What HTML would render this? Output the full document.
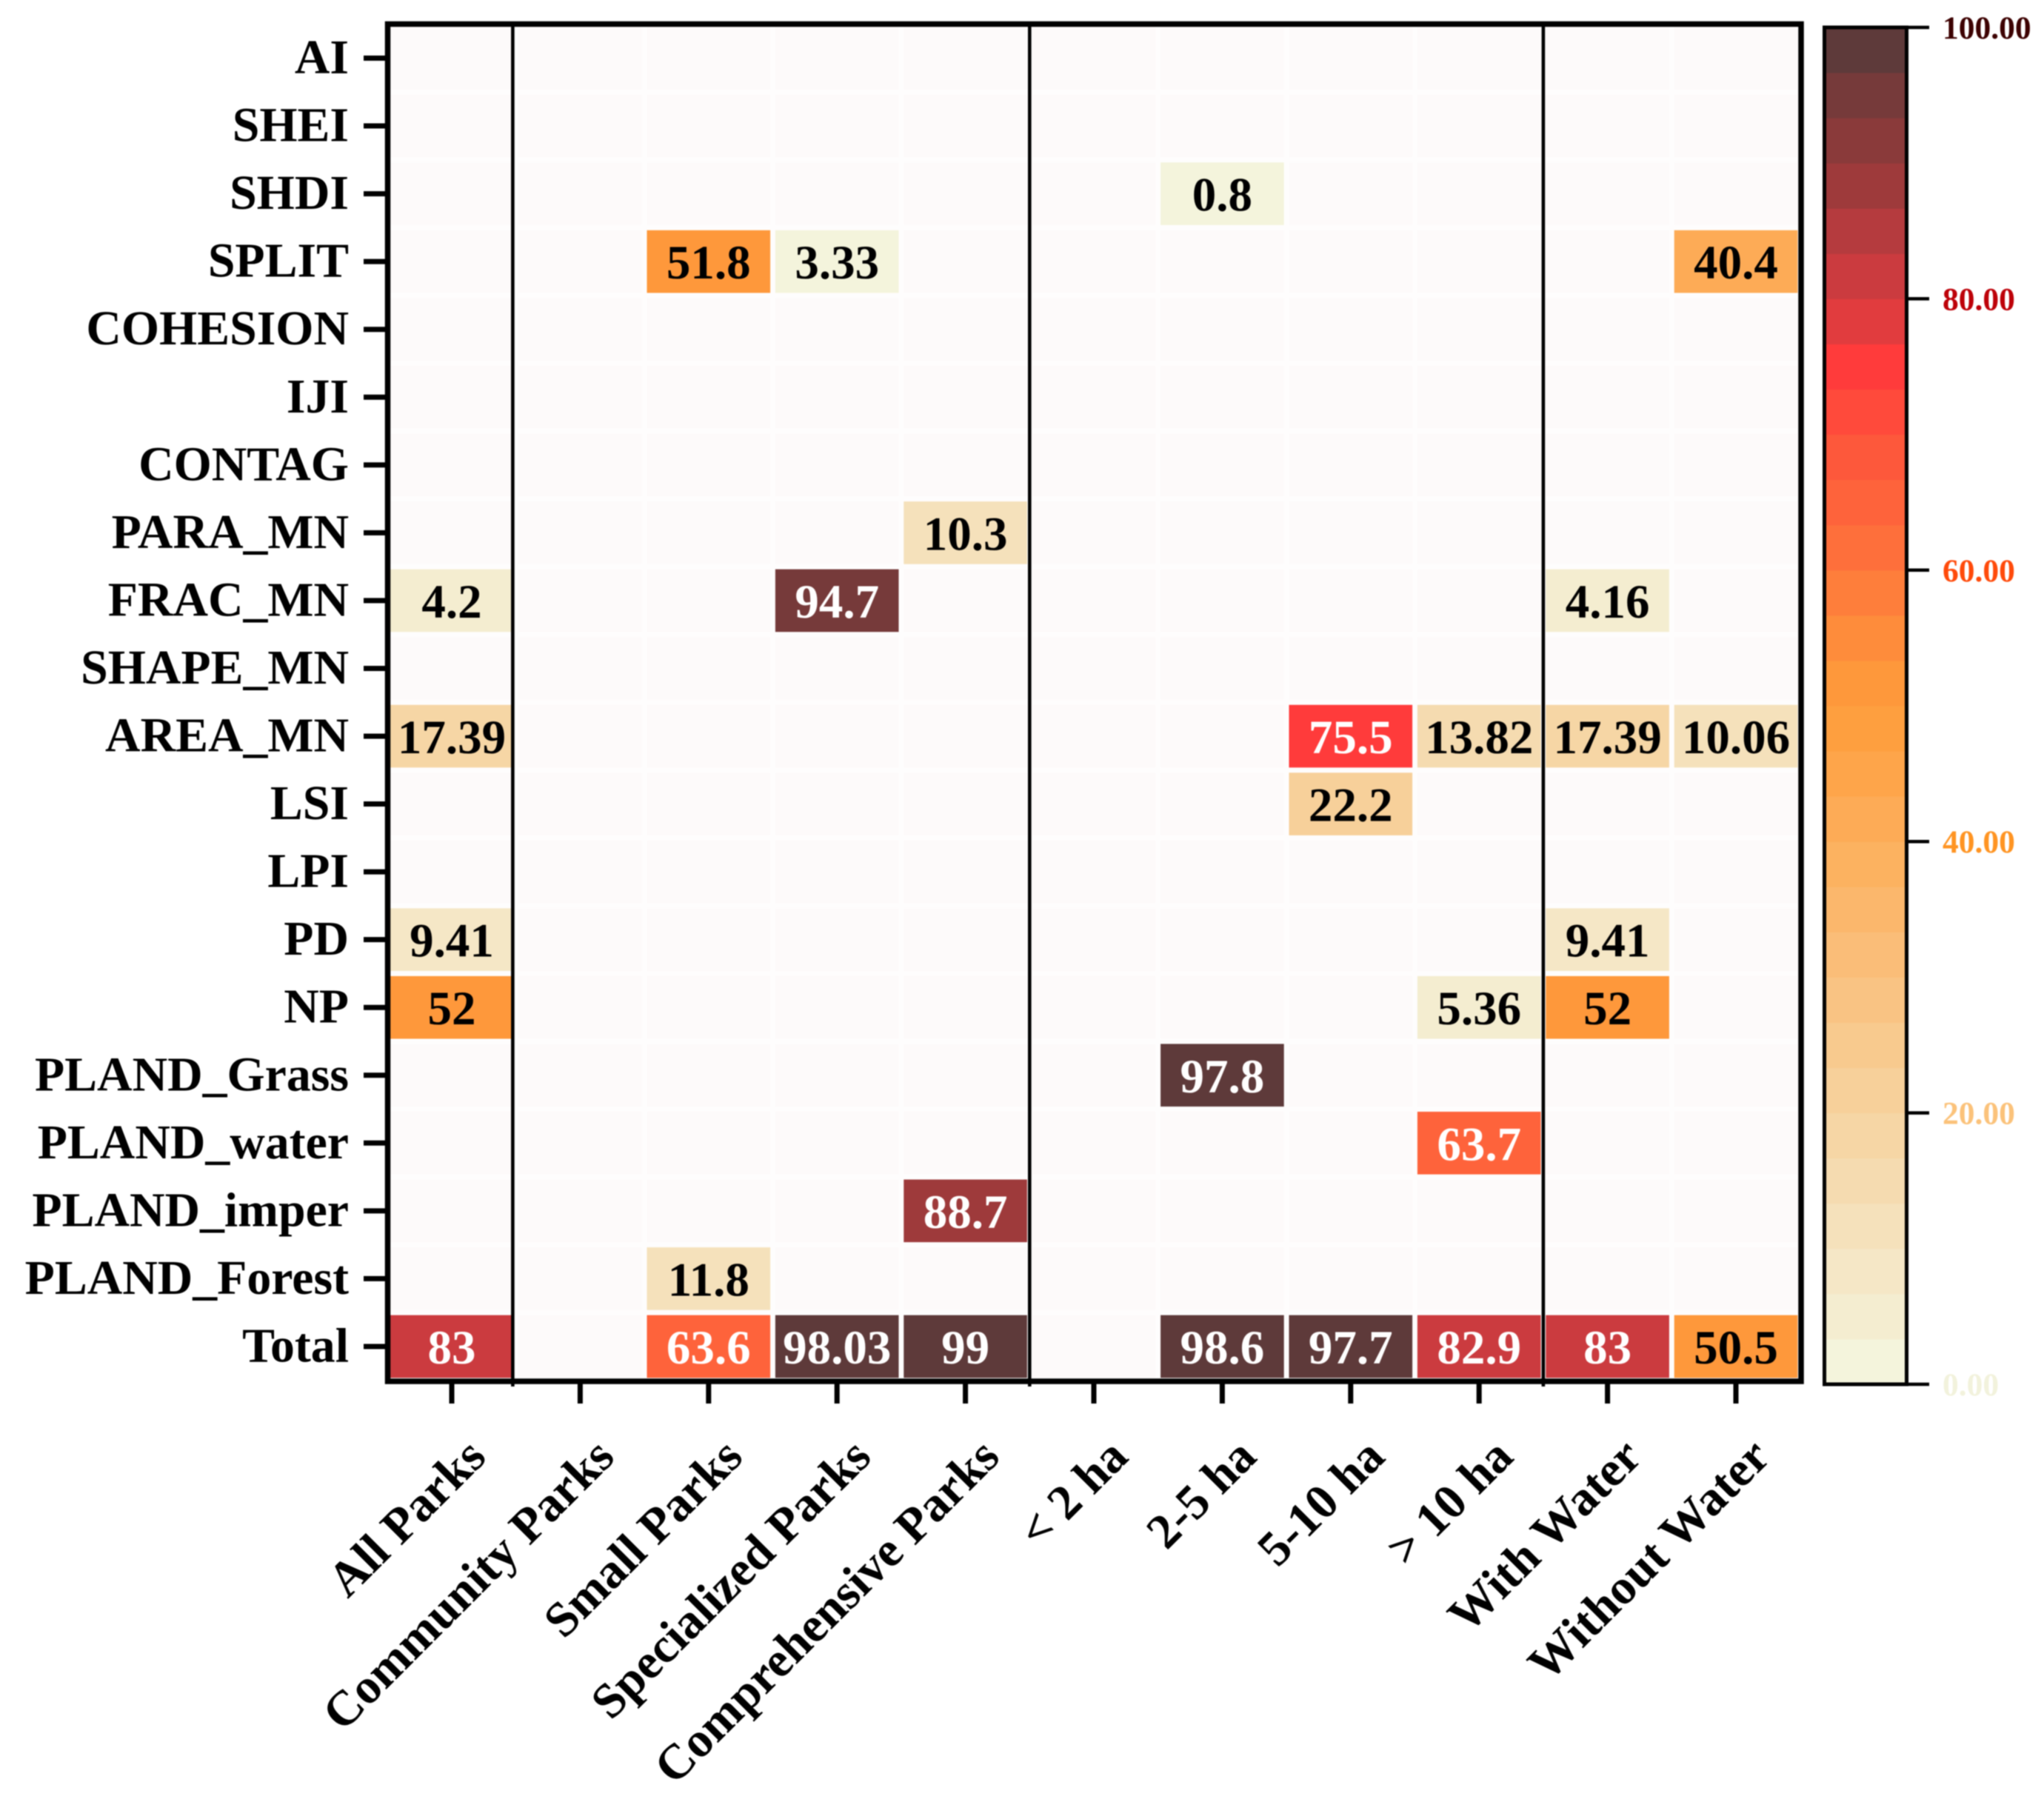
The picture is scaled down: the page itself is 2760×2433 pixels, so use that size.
<!DOCTYPE html>
<html lang="en">
<head>
<meta charset="utf-8">
<title>Landscape metrics heatmap</title>
<style>
html,body{margin:0;padding:0;background:#fff;}
svg{display:block;filter:blur(0.7px);}
text{font-family:"Liberation Serif",serif;font-weight:bold;}
</style>
</head>
<body>
<svg id="chart" xmlns="http://www.w3.org/2000/svg" width="2760" height="2433" viewBox="0 0 2760 2433">
  <rect x="0" y="0" width="2760" height="2433" fill="#ffffff"/>
  <rect x="523.5" y="32.5" width="1908.5" height="1832.5" fill="#fefdfd"/>
  <g id="cells"></g>
  <g id="separators"></g>
  <rect x="523.5" y="32.5" width="1908.5" height="1832.5" fill="none" stroke="#000" stroke-width="7.5"/>
  <g id="yaxis"></g>
  <g id="xaxis"></g>
  <g id="colorbar"></g>
</svg>
<script>
const rowLabels = ["AI","SHEI","SHDI","SPLIT","COHESION","IJI","CONTAG","PARA_MN","FRAC_MN","SHAPE_MN","AREA_MN","LSI","LPI","PD","NP","PLAND_Grass","PLAND_water","PLAND_imper","PLAND_Forest","Total"];
const columnLabels = ["All Parks","Community Parks","Small Parks","Specialized Parks","Comprehensive Parks","< 2 ha","2-5 ha","5-10 ha","> 10 ha","With Water","Without Water"];
const _ = null;
const cellValues = [
  [_,_,_,_,_,_,_,_,_,_,_],
  [_,_,_,_,_,_,_,_,_,_,_],
  [_,_,_,_,_,_,0.8,_,_,_,_],
  [_,_,51.8,3.33,_,_,_,_,_,_,40.4],
  [_,_,_,_,_,_,_,_,_,_,_],
  [_,_,_,_,_,_,_,_,_,_,_],
  [_,_,_,_,_,_,_,_,_,_,_],
  [_,_,_,_,10.3,_,_,_,_,_,_],
  [4.2,_,_,94.7,_,_,_,_,_,4.16,_],
  [_,_,_,_,_,_,_,_,_,_,_],
  [17.39,_,_,_,_,_,_,75.5,13.82,17.39,10.06],
  [_,_,_,_,_,_,_,22.2,_,_,_],
  [_,_,_,_,_,_,_,_,_,_,_],
  [9.41,_,_,_,_,_,_,_,_,9.41,_],
  [52,_,_,_,_,_,_,_,5.36,52,_],
  [_,_,_,_,_,_,97.8,_,_,_,_],
  [_,_,_,_,_,_,_,_,63.7,_,_],
  [_,_,_,_,88.7,_,_,_,_,_,_],
  [_,_,11.8,_,_,_,_,_,_,_,_],
  [83,_,63.6,98.03,99,_,98.6,97.7,82.9,83,50.5]
];
const separatorColumns = [0.975, 5, 9];
const colorbarTicks = [0, 20, 40, 60, 80, 100];
const colorbarTickColors = ["#f2f2dc","#fbc27a","#ff9422","#ff4a0a","#bd0008","#3c0000"];
const bandColors = [
  "#f4f4dc","#f4edd0","#f5e7c6","#f5e1bb","#f5dbb0","#f6d6a5","#f7d09a","#f8ca8e","#f9c383","#fabd78",
  "#fbb76c","#fcb260","#fdab56","#fea54a","#fe9f3f","#fe983b","#fe8c3b","#fe7e3b","#fe6f3b","#fe633b",
  "#fd583b","#ff4a3b","#ff3b3b","#e13c3e","#cb3b3f","#b53b3e","#9e3a3b","#8a3a3a","#763a3a","#5e3a3a"
];

const SVGNS = "http://www.w3.org/2000/svg";
const xPitch = 173.4, yPitch = 91.55, xFirst = 610, yFirst = 78.5;
const xCenter = i => xFirst + i * xPitch;
const yCenter = i => yFirst + i * yPitch;
const xEdge = c => xCenter(c) - xPitch / 2;
const barTop = 37, barBottom = 1869;
const yBar = v => barBottom - (v / 100) * (barBottom - barTop);
const bandIndex = v => Math.min(bandColors.length - 1, Math.floor(v / (100 / bandColors.length)));
const colorFor = v => bandColors[bandIndex(v)];
const make = (tag, parent) => { const e = document.createElementNS(SVGNS, tag); parent.appendChild(e); return e; };
const setAll = (e, o) => { for (const k in o) e.setAttribute(k, o[k]); return e; };

const cellsG = document.getElementById("cells");
rowLabels.forEach((rowName, r) => {
  columnLabels.forEach((colName, c) => {
    const v = cellValues[r][c];
    const rect = make("rect", cellsG);
    
    
    setAll(rect, { x: xCenter(c) - 83.3, y: yCenter(r) - 42.3, width: 166.6, height: 84.6, fill: v === null ? "#fdfafa" : colorFor(v) });
    if (v !== null) {
      const t = make("text", cellsG);
      
      
      setAll(t, { x: xCenter(c), y: yCenter(r) + 23, "text-anchor": "middle", "font-size": 65, fill: v >= 60 ? "#ffffff" : "#000000" });
      t.textContent = String(v);
    }
  });
});

const sepG = document.getElementById("separators");
separatorColumns.forEach(c => {
  const l = make("line", sepG);
  
  
  setAll(l, { x1: xEdge(c), x2: xEdge(c), y1: 34, y2: 1872, stroke: "#000", "stroke-width": 4.6 });
});

const yG = document.getElementById("yaxis");
rowLabels.forEach((name, r) => {
  const tick = make("line", yG);
  
  
  setAll(tick, { x1: 491, x2: 522, y1: yCenter(r), y2: yCenter(r), stroke: "#000", "stroke-width": 7 });
  const t = make("text", yG);
  
  
  setAll(t, { x: 471, y: yCenter(r) + 20.5, "text-anchor": "end", "font-size": 65.8, fill: "#000" });
  t.textContent = name;
});

const xG = document.getElementById("xaxis");
columnLabels.forEach((name, c) => {
  const tick = make("line", xG);
  
  
  setAll(tick, { x1: xCenter(c), x2: xCenter(c), y1: 1866, y2: 1895, stroke: "#000", "stroke-width": 7 });
  const t = make("text", xG);
  
  
  const ax = xCenter(c) + 49, ay = 1970;
  setAll(t, { x: ax, y: ay, "text-anchor": "end", "font-size": 66.5, fill: "#000", transform: "rotate(-45 " + ax + " " + ay + ")" });
  t.textContent = name;
});

const cbG = document.getElementById("colorbar");
bandColors.forEach((color, i) => {
  const step = 100 / bandColors.length;
  const b = make("rect", cbG);
  
  
  setAll(b, { x: 2463, y: yBar((i + 1) * step), width: 112, height: yBar(i * step) - yBar((i + 1) * step) + 0.5, fill: color });
});
const cbFrame = make("rect", cbG);


setAll(cbFrame, { x: 2463.5, y: barTop, width: 111, height: barBottom - barTop, fill: "none", stroke: "#000", "stroke-width": 5 });
colorbarTicks.forEach((v, i) => {
  const tick = make("line", cbG);
  
  
  setAll(tick, { x1: 2575, x2: 2605, y1: yBar(v), y2: yBar(v), stroke: "#000", "stroke-width": 4.5 });
  const t = make("text", cbG);
  
  
  setAll(t, { x: 2623, y: yBar(v) + 15, "font-size": 43.5, fill: colorbarTickColors[i] });
  t.textContent = v.toFixed(2);
});
</script>
</body>
</html>
